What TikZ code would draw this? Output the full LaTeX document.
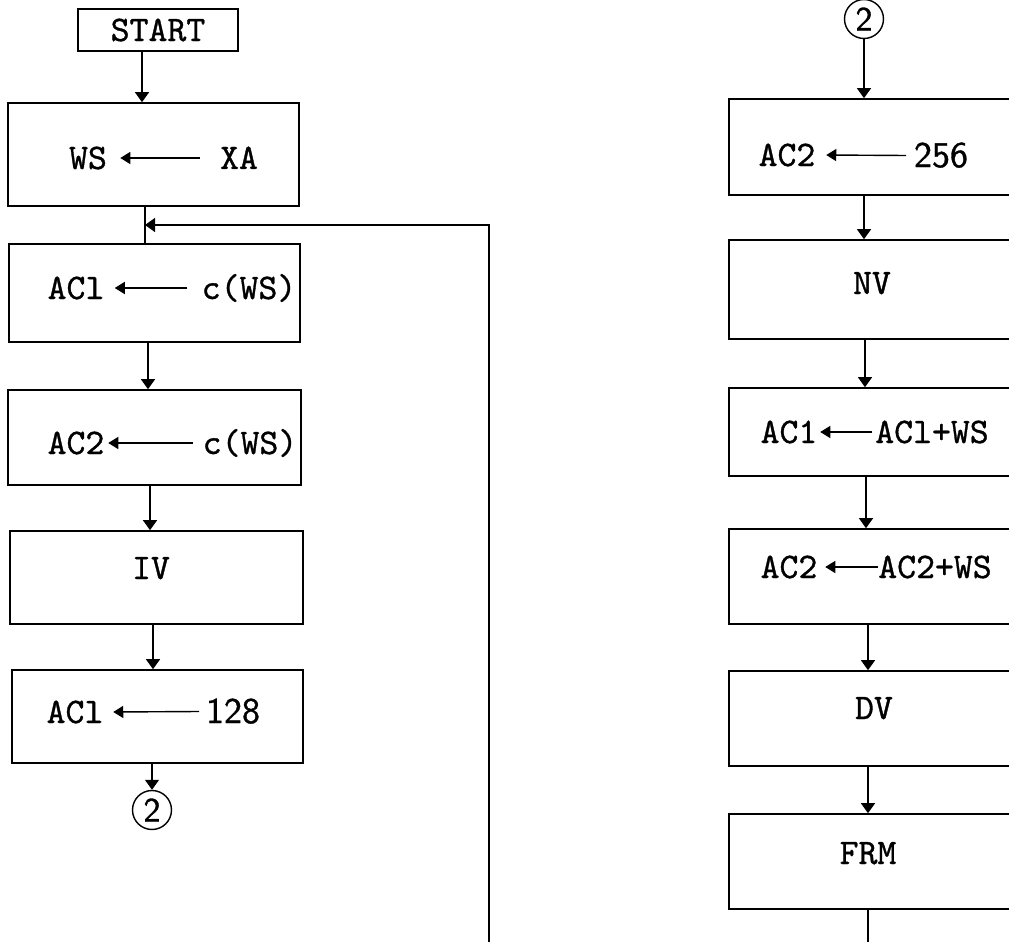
\documentclass[tikz,border=0pt]{standalone}
\usepackage{fontspec}
\newfontfamily\twfont{lmmono10-regular.otf}[FakeBold=0.9]
\newfontfamily\dgfont{lmsans10-regular.otf}[FakeBold=0.9]
\usetikzlibrary{arrows.meta}
\begin{document}
\begin{tikzpicture}[x=0.5pt,y=-0.5pt,
  box/.style={draw, line width=0.8pt, inner sep=0pt, rectangle},
  txt/.style={font=\twfont\fontsize{18}{20}\selectfont, inner sep=0pt, anchor=base},
  num/.style={font=\dgfont\fontsize{18}{20}\selectfont, inner sep=0pt, anchor=base},
  flow/.style={line width=0.6pt, -{Triangle[width=7pt,length=5pt]}},
  plain/.style={line width=0.6pt},
  asg/.style={line width=0.7pt, -{Triangle[width=6pt,length=5pt]}},
  conn/.style={draw, circle, line width=0.7pt, minimum size=19.5pt, inner sep=0pt, font=\dgfont\fontsize{17}{20}\selectfont}]
\clip (0,0) rectangle (1009,942);

% ---------- left column ----------
\node[box, minimum width=80pt, minimum height=21pt, font=\twfont\fontsize{18}{20}\selectfont] (start) at (158,30) {START};
\node[box, minimum width=145.5pt, minimum height=51.5pt] (ws) at (153.5,154.5) {};
\node[box, minimum width=145.5pt, minimum height=49pt] (ac1) at (154.5,293) {};
\node[box, minimum width=146.5pt, minimum height=47.5pt] (ac2) at (154.5,437.5) {};
\node[box, minimum width=146.5pt, minimum height=46.5pt] (iv) at (156.5,577.5) {};
\node[box, minimum width=145.5pt, minimum height=46.5pt] (b128) at (157.5,716.5) {};
\node[conn] (c2l) at (152,810) {2};

\node[txt] (tws) at (88,169) {WS};
\node[txt] (txa) at (239,169) {XA};
\node[txt] (tac1) at (76,299) {ACl};
\node[txt] (tcws1) at (249,299) {c(WS)};
\node[txt] (tac2) at (76,454) {AC2};
\node[txt] (tcws2) at (250,454) {c(WS)};
\node[txt] (tiv) at (151,579) {IV};
\node[txt] (tac1b) at (75,723) {ACl};
\node[num] (t128) at (233,723) {128};

\draw[asg] ([shift={(-10pt,5.5pt)}]txa.base west) -- ([shift={(6.5pt,5.5pt)}]tws.base east);
\draw[asg] ([shift={(-7pt,5.5pt)}]tcws1.base west) -- ([shift={(5pt,5.5pt)}]tac1.base east);
\draw[asg] ([shift={(-4.75pt,5.5pt)}]tcws2.base west) -- ([shift={(1.75pt,5.5pt)}]tac2.base east);
\draw[asg] ([shift={(-3.25pt,5.75pt)}]t128.base west) -- ([shift={(4.75pt,5.5pt)}]tac1b.base east);

\coordinate (loopend) at (489,942);
\coordinate (join) at (145,225);
\draw[flow] (start.south -| 142,0) -- (ws.north -| 142,0);
\draw[plain] (ws.south -| join) -- (ac1.north -| join);
\draw[flow] (loopend) |- (join);
\draw[flow] (ac1.south -| 148,0) -- (ac2.north -| 148,0);
\draw[flow] (ac2.south -| 150,0) -- (iv.north -| 150,0);
\draw[flow] (iv.south -| 153,0) -- (b128.north -| 153,0);
\draw[flow] (b128.south -| c2l) -- (c2l.north);

% ---------- right column ----------
\node[conn] (c2r) at (864,19) {2};
\node[box, minimum width=141.5pt, minimum height=48pt] (r256) at (870.5,147) {};
\node[box, minimum width=141.5pt, minimum height=49.5pt] (nv) at (870.5,289.5) {};
\node[box, minimum width=141.5pt, minimum height=44pt] (r1) at (870.5,432) {};
\node[box, minimum width=141.5pt, minimum height=47.5pt] (r2) at (870.5,576.5) {};
\node[box, minimum width=141.5pt, minimum height=47.5pt] (dv) at (870.5,718.5) {};
\node[box, minimum width=141.5pt, minimum height=47.5pt] (frm) at (870.5,861.5) {};

\node[txt] (tac2r) at (787,166) {AC2};
\node[num] (t256) at (941,167) {256};
\node[txt] (tnv) at (872,294) {NV};
\node[txt] (tac1r) at (789,443) {AC1};
\node[txt] (tsum1) at (932,443) {ACl+WS};
\node[txt] (tac2s) at (789,578) {AC2};
\node[txt] (tsum2) at (935,578) {AC2+WS};
\node[txt] (tdv) at (874,719) {DV};
\node[txt] (tfrm) at (868,864) {FRM};

\draw[asg] ([shift={(-3.75pt,5.75pt)}]t256.base west) -- ([shift={(5.25pt,5.5pt)}]tac2r.base east);
\draw[asg] ([shift={(-1.25pt,5.5pt)}]tsum1.base west) -- ([shift={(1.25pt,5.5pt)}]tac1r.base east);
\draw[asg] ([shift={(0pt,5.5pt)}]tsum2.base west) -- ([shift={(3.75pt,5.5pt)}]tac2s.base east);

\coordinate (rend) at (868,942);
\draw[flow] (c2r.south) -- (r256.north -| c2r);
\draw[flow] (r256.south -| 864,0) -- (nv.north -| 864,0);
\draw[flow] (nv.south -| 865,0) -- (r1.north -| 865,0);
\draw[flow] (r1.south -| 866,0) -- (r2.north -| 866,0);
\draw[flow] (r2.south -| 868,0) -- (dv.north -| 868,0);
\draw[flow] (dv.south -| 868,0) -- (frm.north -| 868,0);
\draw[plain] (frm.south -| rend) -- (rend);
\end{tikzpicture}
\end{document}
